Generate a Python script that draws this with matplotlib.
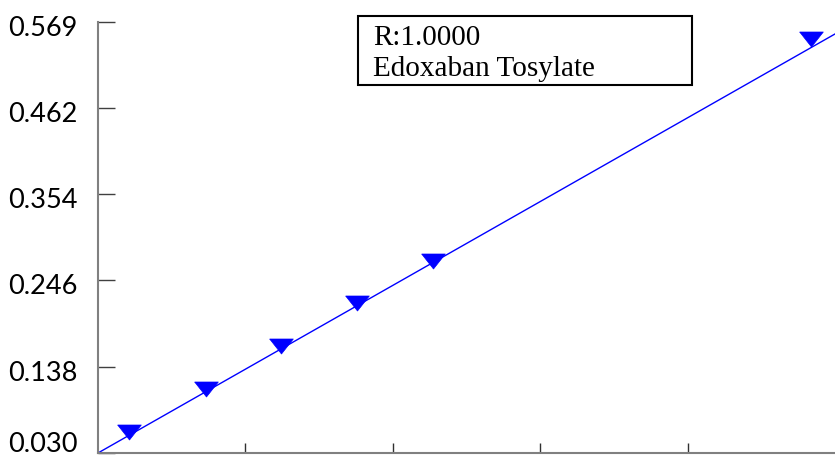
import matplotlib
matplotlib.use('Agg')
import matplotlib.pyplot as plt
from matplotlib.patches import Rectangle
from matplotlib.ticker import FixedLocator, NullFormatter
import matplotlib.transforms as mtransforms

# calibration points
conc = [0.21, 0.73, 1.24, 1.76, 2.27, 4.84]
resp = [0.0574, 0.111, 0.1645, 0.219, 0.2716, 0.549]
yticks = [0.030, 0.138, 0.246, 0.354, 0.462, 0.569]
xticks = [1, 2, 3, 4]

# fit line drawn over the whole x range
fit_x = [0, 5.2]
fit_y = [0.030 + 0.1048 * x for x in fit_x]

W, H = 835, 457
fig = plt.figure(figsize=(W / 100, H / 100), dpi=100)
ax = fig.add_axes([0.1174, 0.0088, 0.8826, 0.9431])

# flattened downward triangle
tri = [(-1, 0.55), (1, 0.55), (0, -0.72), (-1, 0.55)]
ax.plot(fit_x, fit_y, color='blue', linewidth=1)
ax.plot(conc, resp, linestyle='none', marker=tri, markersize=17,
        color='blue', markeredgecolor='blue', markeredgewidth=0.5)

ax.set_xlim(0, 5)
ax.set_ylim(0.030, 0.569)
ax.set_yticks(yticks)
ax.set_yticklabels(['%.3f' % v for v in yticks], fontfamily='Lato', fontsize=19.5)
ax.xaxis.set_major_locator(FixedLocator(xticks))
ax.xaxis.set_major_formatter(NullFormatter())
ax.tick_params(axis='y', direction='in', length=12, width=1, color='#404040', pad=15)
ax.tick_params(axis='x', direction='in', length=7, width=1, color='#303030')

# nudge labels slightly down, lowest one up so it fits
labels = ax.get_yticklabels()
for i, lab in enumerate(labels):
    dy = 8 / 72 if i == 0 else -3 / 72
    lab.set_transform(lab.get_transform() +
                      mtransforms.ScaledTranslation(0, dy, fig.dpi_scale_trans))

for side in ['top', 'right']:
    ax.spines[side].set_visible(False)
for side in ['left', 'bottom']:
    ax.spines[side].set_color('#808080')
    ax.spines[side].set_linewidth(1.5)

# annotation box
fig.patches.append(Rectangle((358 / W, 1 - 85 / H), (692 - 358) / W, 69 / H,
                             transform=fig.transFigure, facecolor='white',
                             edgecolor='black', linewidth=1.5, zorder=5))
fig.text(373 / W, 1 - 45 / H, 'R:1.0000', ha='left', va='baseline',
         fontfamily='Liberation Serif', fontsize=21, zorder=6)
fig.text(373 / W, 1 - 76 / H, 'Edoxaban Tosylate', ha='left', va='baseline',
         fontfamily='Liberation Serif', fontsize=21, zorder=6)

fig.savefig('out.png', dpi=100)
